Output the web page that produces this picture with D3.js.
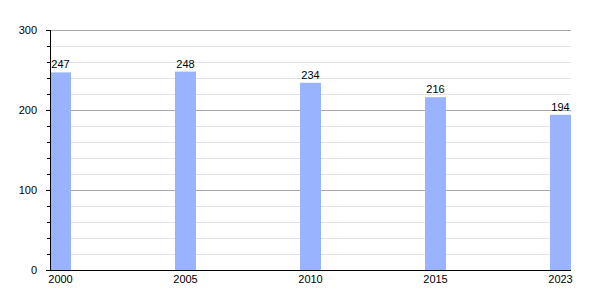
<!DOCTYPE html>
<html>
<head>
<meta charset="utf-8">
<script src="https://cdn.jsdelivr.net/npm/d3@7"></script>
<style>
  body { margin: 0; background: #fff; }
  text { font-family: "Liberation Sans", Arial, sans-serif; font-size: 11px; fill: #000; }
</style>
</head>
<body>
<div id="chart"></div>
<script>
// chart data
const years = ["2000", "2005", "2010", "2015", "2023"];
const population = [247, 248, 234, 216, 194];
const majorTicks = [0, 100, 200, 300];
const minorTicks = [20, 40, 60, 80, 120, 140, 160, 180, 220, 240, 260, 280];

const svgWidth = 600, svgHeight = 300;
const margin = { top: 30, right: 29, bottom: 30, left: 50 };
const width = svgWidth - margin.left - margin.right;
const height = svgHeight - margin.top - margin.bottom;

const svg = d3.select("#chart")
    .append("svg")
    .attr("width", svgWidth)
    .attr("height", svgHeight);

const g = svg.append("g")
    .attr("transform", `translate(${margin.left},${margin.top})`);

const x = d3.scaleBand()
    .domain(years)
    .range([0, width])
    .paddingInner(0.832)
    .paddingOuter(0);

const y = d3.scaleLinear()
    .domain([0, 300])
    .range([height, 0]);

// grid lines
g.selectAll(".minor-grid")
    .data(minorTicks)
    .enter()
    .append("line")
    .attr("x1", 0)
    .attr("x2", width)
    .attr("y1", d => Math.round(y(d)) + 0.5)
    .attr("y2", d => Math.round(y(d)) + 0.5)
    .attr("stroke", "#e2e2e2");

g.selectAll(".major-grid")
    .data(majorTicks.filter(d => d > 0))
    .enter()
    .append("line")
    .attr("x1", 0)
    .attr("x2", width)
    .attr("y1", d => Math.round(y(d)) + 0.5)
    .attr("y2", d => Math.round(y(d)) + 0.5)
    .attr("stroke", "#a8a8a8");

// bars
g.selectAll(".bar")
    .data(population)
    .enter()
    .append("rect")
    .attr("class", "bar")
    .attr("x", (d, i) => x(years[i]))
    .attr("y", d => y(d))
    .attr("width", x.bandwidth())
    .attr("height", d => height - y(d))
    .attr("fill", "#99b3ff");

g.selectAll(".bar-label")
    .data(population)
    .enter()
    .append("text")
    .attr("class", "bar-label")
    .attr("x", (d, i) => x(years[i]) + x.bandwidth() / 2)
    .attr("y", d => y(d) - 4)
    .attr("text-anchor", "middle")
    .text(d => d);

// y axis
const yAxis = g.append("g")
    .call(d3.axisLeft(y).tickValues(majorTicks).tickSize(4).tickPadding(9));
yAxis.select(".domain").attr("stroke", "#000").attr("d", `M0.5,${height}V0`);
yAxis.selectAll(".tick line").attr("stroke", "#000");
yAxis.selectAll(".tick text").style("font-size", "11px").attr("fill", "#000");

g.append("g")
    .call(d3.axisLeft(y).tickValues(minorTicks).tickSize(3).tickFormat(""))
    .call(s => s.select(".domain").remove())
    .selectAll(".tick line").attr("stroke", "#000");

// x axis
const xAxis = g.append("g")
    .attr("transform", `translate(0,${height})`)
    .call(d3.axisBottom(x).tickSize(0).tickPadding(5));
xAxis.select(".domain").attr("stroke", "#000").attr("d", `M0,0.5H${width}`);
xAxis.selectAll(".tick text").style("font-size", "11px").attr("fill", "#000");
</script>
</body>
</html>
